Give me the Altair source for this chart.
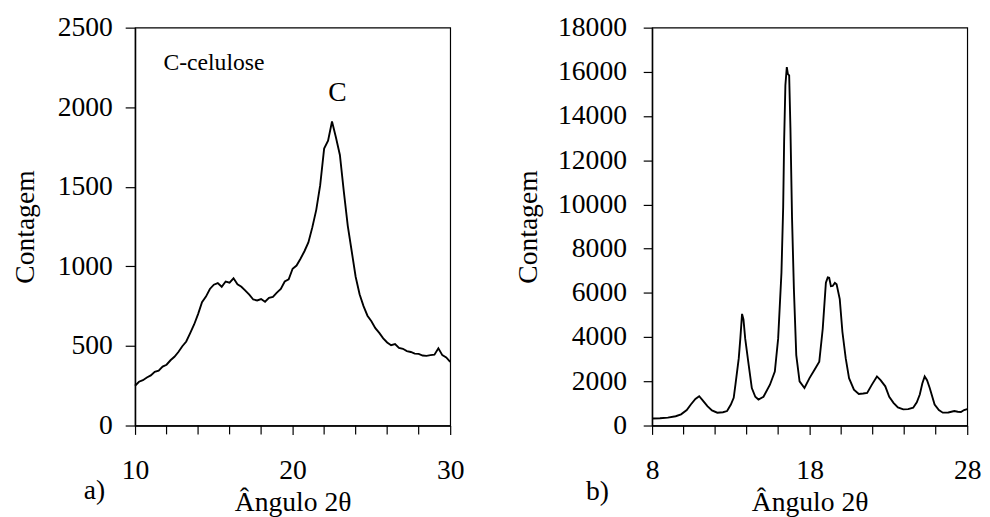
import altair as alt
import pandas as pd

FONT = "Liberation Serif"

# ---------- panel a) C-celulose ----------
a_angle = [10.00, 10.25, 10.50, 10.75, 11.00, 11.25, 11.50, 11.75, 12.00, 12.25,
           12.50, 12.75, 13.00, 13.25, 13.50, 13.75, 14.00, 14.25, 14.50, 14.75,
           15.00, 15.25, 15.50, 15.75, 16.00, 16.25, 16.50, 16.75, 17.00, 17.25,
           17.50, 17.75, 18.00, 18.25, 18.50, 18.75, 19.00, 19.25, 19.50, 19.75,
           20.00, 20.25, 20.50, 20.75, 21.00, 21.25, 21.50, 21.75, 22.00, 22.25,
           22.50, 22.75, 23.00, 23.25, 23.50, 23.75, 24.00, 24.25, 24.50, 24.75,
           25.00, 25.25, 25.50, 25.75, 26.00, 26.25, 26.50, 26.75, 27.00, 27.25,
           27.50, 27.75, 28.00, 28.25, 28.50, 28.75, 29.00, 29.25, 29.50, 29.75,
           30.00]
a_count = [250, 275, 285, 302, 315, 338, 345, 370, 382, 410,
           432, 462, 498, 528, 580, 635, 700, 775, 810, 858,
           885, 895, 872, 905, 898, 925, 888, 872, 848, 822,
           792, 786, 795, 778, 802, 808, 835, 858, 905, 918,
           985, 1005, 1048, 1095, 1150, 1245, 1355, 1510, 1740, 1790,
           1910, 1810, 1700, 1470, 1255, 1095, 935, 825, 750, 690,
           655, 612, 582, 548, 522, 505, 512, 488, 482, 468,
           462, 452, 450, 440, 438, 442, 445, 485, 442, 428,
           400]

# ---------- panel b) ----------
b_angle = [8.0, 8.5, 9.0, 9.5, 9.84, 10.2, 10.46, 10.75, 10.99, 11.2,
           11.51, 11.8, 12.14, 12.5, 12.76, 13.0, 13.18, 13.29, 13.5, 13.6,
           13.71, 13.8, 13.91, 14.13, 14.33, 14.55, 14.75, 15.07, 15.48, 15.79,
           16.0, 16.21, 16.32, 16.38, 16.46, 16.55, 16.62, 16.7, 16.78, 16.88,
           17.0, 17.15, 17.36, 17.67, 17.99, 18.3, 18.61, 18.83, 19.03, 19.15,
           19.24, 19.35, 19.46, 19.6, 19.71, 19.91, 20.08, 20.29, 20.5, 20.81,
           21.12, 21.4, 21.65, 21.95, 22.27, 22.5, 22.8, 23.05, 23.32, 23.6,
           23.94, 24.25, 24.57, 24.8, 24.99, 25.15, 25.3, 25.45, 25.62, 25.93,
           26.2, 26.45, 26.8, 27.18, 27.4, 27.6, 27.8, 28.0]
b_count = [320, 330, 360, 420, 506, 700, 953, 1200, 1325, 1150,
           878, 680, 581, 600, 655, 950, 1251, 1846, 3037, 3931,
           5048, 4800, 3931, 2740, 1697, 1300, 1176, 1300, 1846, 2443,
           3931, 6910, 9885, 12865, 15397, 16215, 15900, 15844, 13460, 9439,
           6164, 3185, 1997, 1697, 2144, 2515, 2890, 4378, 6464, 6700,
           6687, 6300, 6312, 6450, 6388, 5718, 4230, 3037, 2144, 1622,
           1429, 1450, 1474, 1850, 2220, 2050, 1773, 1300, 1027, 820,
           728, 740, 804, 1050, 1400, 1900, 2220, 2050, 1697, 953,
           700, 581, 590, 655, 625, 610, 700, 745]

# axis ticks / labels
a_xlabels = [10, 20, 30]
a_xminor = [12, 14, 16, 18, 22, 24, 26, 28]
a_yticks = [0, 500, 1000, 1500, 2000, 2500]
b_xlabels = [8, 18, 28]
b_xminor = [10, 12, 14, 16, 20, 22, 24, 26]
b_yticks = [0, 2000, 4000, 6000, 8000, 10000, 12000, 14000, 16000, 18000]

# annotations (text, angle, count)
a_note_text = ["C-celulose"]
a_note_x = [11.8]
a_note_y = [2235]
a_peak_text = ["C"]
a_peak_x = [22.84]
a_peak_y = [2039]
a_tag = ["a)"]
a_tag_x = [6.75]
a_tag_y = [-463]
b_tag = ["b)"]
b_tag_x = [3.8]
b_tag_y = [-3350]

X_TITLE = "Ângulo 2θ"
Y_TITLE = "Contagem"

W = 320
H = 404
TICK = 9


def panel(angle, count, xdom, xlabels, xminor, ydom, yticks,
          tick_y, lab_pad_y, title_pad_y, tag, tag_x, tag_y, extras):
    df = pd.DataFrame({"angle": angle, "count": count})
    xenc = alt.X("angle:Q", scale=alt.Scale(domain=xdom, nice=False, zero=False),
                 axis=alt.Axis(values=xlabels, title=X_TITLE,
                               tickSize=TICK, labelPadding=23, titlePadding=4,
                               labelFlush=False, labelOverlap=False, grid=False))
    yenc = alt.Y("count:Q", scale=alt.Scale(domain=ydom, nice=False),
                 axis=alt.Axis(values=yticks, title=Y_TITLE, tickSize=tick_y,
                               labelPadding=lab_pad_y, titlePadding=title_pad_y,
                               labelFlush=False, labelOverlap=False, grid=False,
                               format="d"))
    line = alt.Chart(df).mark_line(color="black", strokeWidth=1.9,
                                   strokeJoin="miter").encode(x=xenc, y=yenc)
    layers = [line]
    mdf = pd.DataFrame({"angle": xminor})
    layers.append(alt.Chart(mdf).mark_rule(color="black", strokeWidth=1.2)
                  .encode(x="angle:Q", y=alt.value(H), y2=alt.value(H + TICK)))
    tdf = pd.DataFrame({"t": tag, "angle": tag_x, "count": tag_y})
    layers.append(alt.Chart(tdf).mark_text(font=FONT, fontSize=28, align="left",
                                           baseline="alphabetic", color="black")
                  .encode(x="angle:Q", y="count:Q", text="t:N"))
    for (txt, xs, ys, size, align) in extras:
        edf = pd.DataFrame({"t": txt, "angle": xs, "count": ys})
        layers.append(alt.Chart(edf).mark_text(font=FONT, fontSize=size, align=align,
                                               baseline="alphabetic", color="black")
                      .encode(x="angle:Q", y="count:Q", text="t:N"))
    return alt.layer(*layers).properties(width=W, height=H)


left = panel(a_angle, a_count, [10, 30], a_xlabels, a_xminor,
             [0, 2500], a_yticks, 10, 13, 18, a_tag, a_tag_x, a_tag_y,
             [(a_note_text, a_note_x, a_note_y, 24, "left"),
              (a_peak_text, a_peak_x, a_peak_y, 28, "center")])

right = panel(b_angle, b_count, [8, 28], b_xlabels, b_xminor,
              [0, 18000], b_yticks, 9, 17, 15, b_tag, b_tag_x, b_tag_y, [])

chart = alt.hconcat(left, right, spacing=50).properties(
    padding={"left": 3, "top": 1, "right": 0, "bottom": 0},
    background="white",
).configure_axis(
    labelFont=FONT, titleFont=FONT, labelFontSize=28, titleFontSize=28,
    labelColor="black", titleColor="black", titleFontWeight="normal",
    tickColor="black", domainColor="black", domainWidth=1.5, tickWidth=1.2,
).configure_view(stroke="black", strokeWidth=1.2)

chart.save("out.html", embed_options={"renderer": "svg", "actions": False})
